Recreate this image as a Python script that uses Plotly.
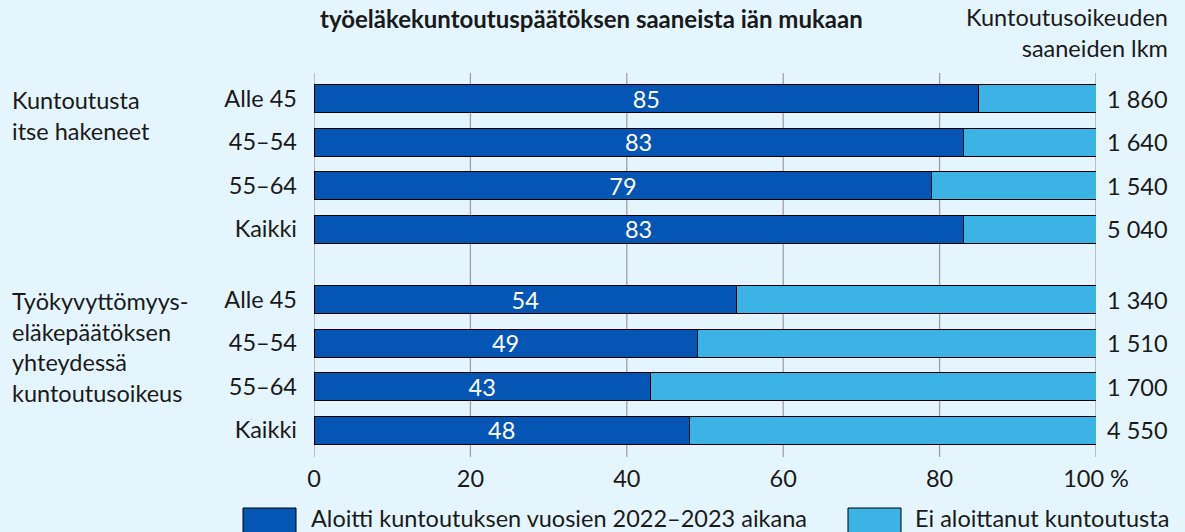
import plotly.graph_objects as go
from plotly.subplots import make_subplots

# ---- data ----
age_groups = ["Alle 45", "45–54", "55–64", "Kaikki"]
started_self = [85, 83, 79, 83]
not_started_self = [15, 17, 21, 17]
counts_self = ["1 860", "1 640", "1 540", "5 040"]

started_pension = [54, 49, 43, 48]
not_started_pension = [46, 51, 57, 52]
counts_pension = ["1 340", "1 510", "1 700", "4 550"]

group_labels = ["Kuntoutusta<br>itse hakeneet",
                "Työkyvyttömyys-<br>eläkepäätöksen<br>yhteydessä<br>kuntoutusoikeus"]
series_names = ["Aloitti kuntoutuksen vuosien 2022–2023 aikana", "Ei aloittanut kuntoutusta"]
x_ticks = [0, 20, 40, 60, 80, 100]
x_ticktext = ["0", "20", "40", "60", "80", "100 %"]
title_text = "työeläkekuntoutuspäätöksen saaneista iän mukaan"
count_header = "Kuntoutusoikeuden<br>saaneiden lkm"

# ---- style ----
W, H = 1185, 532
BG = "#e5f5fd"
DARK = "#0556b4"
LIGHT = "#3bb3e4"
GRID = "#a0a0a0"
FONT = "Lato"
FS = 23.5
L, R = 314, 89

def py(px):
    return 1 - px / H

def pxx(px):
    return (px - L) / (W - L - R)

fig = make_subplots(rows=2, cols=1, shared_xaxes=False)

for row, (s, ns) in enumerate([(started_self, not_started_self),
                               (started_pension, not_started_pension)], start=1):
    fig.add_trace(go.Bar(
        y=age_groups, x=s, orientation="h", name=series_names[0],
        marker=dict(color=DARK, line=dict(color="black", width=1)),
        text=[str(v) for v in s], textposition="inside", insidetextanchor="middle",
        textangle=0, textfont=dict(color="white", size=FS, family=FONT),
        constraintext="none", showlegend=False, hoverinfo="skip"), row=row, col=1)
    fig.add_trace(go.Bar(
        y=age_groups, x=ns, orientation="h", name=series_names[1],
        marker=dict(color=LIGHT, line=dict(color="black", width=1)),
        showlegend=False, hoverinfo="skip"), row=row, col=1)

fig.update_layout(
    width=W, height=H, barmode="stack", bargap=0.355,
    paper_bgcolor=BG, plot_bgcolor=BG,
    margin=dict(l=L, r=R, t=0, b=0),
    font=dict(family=FONT, size=FS, color="#1a1a1a"),
    showlegend=False,
)

ax_common = dict(range=[0, 100], showgrid=False, zeroline=False, showline=False,
                 automargin=False, fixedrange=True)
fig.update_layout(
    xaxis=dict(**ax_common, showticklabels=False),
    xaxis2=dict(**ax_common, tickvals=x_ticks, ticktext=x_ticktext,
                tickfont=dict(size=FS), ticks="", ticklabelstandoff=10),
    yaxis=dict(domain=[py(251), py(77)], autorange="reversed", automargin=False,
               showgrid=False, ticks="", ticklabelstandoff=16, tickfont=dict(size=FS)),
    yaxis2=dict(domain=[py(452), py(278)], autorange="reversed", automargin=False,
                showgrid=False, ticks="", ticklabelstandoff=16, tickfont=dict(size=FS)),
)

# vertical gridlines spanning both panels
for v in x_ticks:
    fig.add_shape(type="line", xref="x2", yref="paper", x0=v, x1=v,
                  y0=py(457), y1=py(73), line=dict(color=GRID, width=1.3), layer="below")

# counts on the right
for yref, cats, cnts in [("y", age_groups, counts_self), ("y2", age_groups, counts_pension)]:
    for c, n in zip(cats, cnts):
        fig.add_annotation(xref="paper", yref=yref, x=pxx(1105), y=c, text=n,
                           showarrow=False, xanchor="left", font=dict(size=FS))

# header texts
fig.add_annotation(xref="paper", yref="paper", x=pxx(1170), y=py(33), text=count_header,
                   showarrow=False, xanchor="right", yanchor="middle", align="right",
                   font=dict(size=FS))
fig.add_annotation(xref="paper", yref="paper", x=pxx(591), y=py(18),
                   text="<b>" + title_text + "</b>", showarrow=False,
                   xanchor="center", yanchor="middle", font=dict(size=24))

# group labels
fig.add_annotation(xref="paper", yref="paper", x=pxx(10), y=py(84), text=group_labels[0],
                   showarrow=False, xanchor="left", yanchor="top", align="left",
                   font=dict(size=FS))
fig.add_annotation(xref="paper", yref="paper", x=pxx(10), y=py(285), text=group_labels[1],
                   showarrow=False, xanchor="left", yanchor="top", align="left",
                   font=dict(size=FS))

# custom legend
for (x0, x1, col, tx, name) in [(243, 296, DARK, 309, series_names[0]),
                               (848, 901, LIGHT, 913, series_names[1])]:
    fig.add_shape(type="rect", xref="paper", yref="paper", x0=pxx(x0), x1=pxx(x1),
                  y0=py(540), y1=py(508), fillcolor=col, line=dict(color="black", width=1))
    fig.add_annotation(xref="paper", yref="paper", x=pxx(tx), y=py(518), text=name,
                       showarrow=False, xanchor="left", yanchor="middle", font=dict(size=FS))

fig.write_html("out.html", config={"displayModeBar": False})

# remove default browser body margin so the figure sits at the page origin
with open("out.html", "r", encoding="utf-8") as f:
    html = f.read()
html = html.replace("<head>", "<head><style>html,body{margin:0;padding:0;overflow:hidden;}</style>", 1)
with open("out.html", "w", encoding="utf-8") as f:
    f.write(html)
